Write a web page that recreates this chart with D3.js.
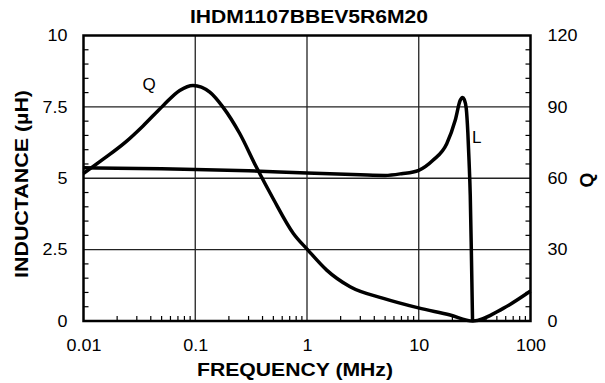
<!DOCTYPE html>
<html><head><meta charset="utf-8">
<script src="https://cdn.jsdelivr.net/npm/d3@7"></script>
<style>body{margin:0;background:#fff}svg{display:block}</style>
</head><body>
<svg id="c" width="605" height="383"></svg>
<script>
const chartTitle = "IHDM1107BBEV5R6M20";
const xTitle = "FREQUENCY (MHz)";
const yLTitle = "INDUCTANCE (µH)";
const yQTitle = "Q";
const xTickValues = [0.01, 0.1, 1, 10, 100];
const xTickLabels = ["0.01", "0.1", "1", "10", "100"];
const lTickValues = [0, 2.5, 5, 7.5, 10];
const lTickLabels = ["0", "2.5", "5", "7.5", "10"];
const qTickValues = [0, 30, 60, 90, 120];
const qTickLabels = ["0", "30", "60", "90", "120"];

// Inductance curve (µH)
const freqL = [0.01, 0.02, 0.05, 0.1, 0.3, 1, 3, 5, 7, 10, 13.4, 17.8, 21.2, 23.5, 24.6, 25.6, 26.6, 27.5, 28.2, 28.9, 29.6, 30.3];
const valL  = [5.37, 5.35, 5.33, 5.31, 5.26, 5.18, 5.12, 5.10, 5.16, 5.28, 5.63, 6.21, 7.03, 7.73, 7.83, 7.75, 7.45, 6.6, 5.6, 4.4, 2.3, 0];

// Q curve
const freqQ = [0.01, 0.015, 0.0242, 0.0341, 0.0515, 0.0726, 0.0955, 0.135, 0.177, 0.25, 0.352, 0.497, 0.755, 1.02, 1.5, 2.43, 4.83, 9.94, 19.1, 30.5, 57, 100];
const valQ  = [62, 68, 75.5, 82, 90.5, 96.9, 99, 96.2, 89.9, 78.8, 64.7, 51.5, 36.8, 29.8, 21.4, 14.4, 9.5, 5.5, 2.5, 0, 5.3, 12.6];

const svg = d3.select("#c");
const L = 83.5, R = 530.5, T = 35.5, B = 321;
const x = d3.scaleLog().domain([0.01, 100]).range([L, R]);
const yL = d3.scaleLinear().domain([0, 10]).range([B, T]);
const yQ = d3.scaleLinear().domain([0, 120]).range([B, T]);
const font = "'Liberation Sans', Arial, Helvetica, sans-serif";

function stretch(sel, k) {
  sel.each(function () {
    const w = this.getComputedTextLength();
    d3.select(this).attr("textLength", w * k).attr("lengthAdjust", "spacingAndGlyphs");
  });
}

// grid
const g = svg.append("g");
g.selectAll(".vg").data([0.1, 1, 10]).enter().append("line")
  .attr("x1", d => x(d)).attr("x2", d => x(d)).attr("y1", T).attr("y2", B)
  .attr("stroke", "#222").attr("stroke-width", 1.3);
g.selectAll(".hg").data([2.5, 5, 7.5]).enter().append("line")
  .attr("y1", d => yL(d)).attr("y2", d => yL(d)).attr("x1", L).attr("x2", R)
  .attr("stroke", "#222").attr("stroke-width", 1.3);

// minor ticks
const lMinor = d3.range(0.5, 10, 0.5).filter(v => v % 2.5 !== 0);
g.selectAll(".lm").data(lMinor).enter().append("line")
  .attr("x1", L).attr("x2", L + 5).attr("y1", d => yL(d)).attr("y2", d => yL(d))
  .attr("stroke", "#000").attr("stroke-width", 1.2);
const qMinor = d3.range(6, 120, 6).filter(v => v % 30 !== 0);
g.selectAll(".qm").data(qMinor).enter().append("line")
  .attr("x1", R).attr("x2", R - 5).attr("y1", d => yQ(d)).attr("y2", d => yQ(d))
  .attr("stroke", "#000").attr("stroke-width", 1.2);
const xMinor = [];
[0.01, 0.1, 1, 10].forEach(dec => { for (let k = 2; k <= 9; k++) xMinor.push(dec * k); });
g.selectAll(".xm").data(xMinor).enter().append("line")
  .attr("x1", d => x(d)).attr("x2", d => x(d)).attr("y1", B).attr("y2", B - 5)
  .attr("stroke", "#000").attr("stroke-width", 1.2);

// curves
const lineL = d3.line().x((d, i) => x(freqL[i])).y(d => yL(d)).curve(d3.curveMonotoneX);
svg.append("path").attr("d", lineL(valL)).attr("fill", "none").attr("stroke", "#000")
  .attr("stroke-width", 3.5).attr("stroke-linejoin", "round");
const lineQ = d3.line().x((d, i) => x(freqQ[i])).y(d => yQ(d)).curve(d3.curveMonotoneX);
svg.append("path").attr("d", lineQ(valQ)).attr("fill", "none").attr("stroke", "#000")
  .attr("stroke-width", 3.5).attr("stroke-linejoin", "round");

// frame
svg.append("rect").attr("x", L).attr("y", T).attr("width", R - L).attr("height", B - T)
  .attr("fill", "none").attr("stroke", "#000").attr("stroke-width", 2.5);

// axes labels
const xAxis = d3.axisBottom(x).tickValues(xTickValues).tickFormat((d, i) => xTickLabels[i]).tickSize(0).tickPadding(19);
const xa = svg.append("g").attr("transform", `translate(0,${B})`).call(xAxis);
xa.select(".domain").remove();
xa.selectAll("text").attr("font-family", font).attr("font-size", 16).attr("fill", "#000").call(stretch, 1.12);

const lAxis = d3.axisLeft(yL).tickValues(lTickValues).tickFormat((d, i) => lTickLabels[i]).tickSize(0).tickPadding(16);
const la = svg.append("g").attr("transform", `translate(${L},0)`).call(lAxis);
la.select(".domain").remove();
la.selectAll("text").attr("font-family", font).attr("font-size", 16).attr("fill", "#000").call(stretch, 1.12);

const qAxis = d3.axisRight(yQ).tickValues(qTickValues).tickFormat((d, i) => qTickLabels[i]).tickSize(0).tickPadding(17);
const qa = svg.append("g").attr("transform", `translate(${R},0)`).call(qAxis);
qa.select(".domain").remove();
qa.selectAll("text").attr("font-family", font).attr("font-size", 16).attr("fill", "#000").call(stretch, 1.12);

// titles
svg.append("text").attr("x", 309).attr("y", 23).attr("text-anchor", "middle")
  .attr("font-family", font).attr("font-weight", "bold").attr("font-size", 18)
  .attr("textLength", 238).attr("lengthAdjust", "spacingAndGlyphs").text(chartTitle);
svg.append("text").attr("x", 295).attr("y", 376).attr("text-anchor", "middle")
  .attr("font-family", font).attr("font-weight", "bold").attr("font-size", 18.5)
  .attr("textLength", 196).attr("lengthAdjust", "spacingAndGlyphs").text(xTitle);
svg.append("text").attr("transform", `translate(28,184) rotate(-90)`).attr("text-anchor", "middle")
  .attr("font-family", font).attr("font-weight", "bold").attr("font-size", 18.5)
  .attr("textLength", 188).attr("lengthAdjust", "spacingAndGlyphs").text(yLTitle);
svg.append("text").attr("transform", `translate(593,180) rotate(-90)`).attr("text-anchor", "middle")
  .attr("font-family", font).attr("font-weight", "bold").attr("font-size", 19).text(yQTitle);

// curve labels
svg.append("text").attr("x", 149).attr("y", 90).attr("text-anchor", "middle")
  .attr("font-family", font).attr("font-size", 17).text("Q");
svg.append("text").attr("x", 472).attr("y", 143)
  .attr("font-family", font).attr("font-size", 17).text("L");
</script>
</body></html>
